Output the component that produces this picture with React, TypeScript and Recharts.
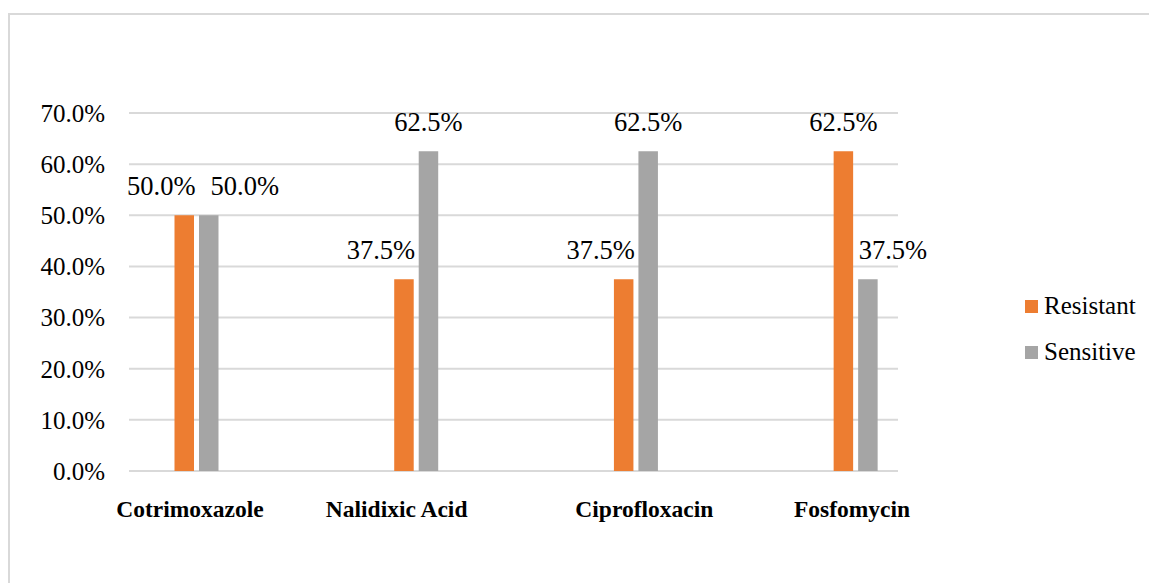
import React from 'react'
import { BarChart, Bar, XAxis, YAxis, CartesianGrid, Legend, LabelList } from 'recharts'

const drugs = ['Cotrimoxazole', 'Nalidixic Acid', 'Ciprofloxacin', 'Fosfomycin']
const resistant = [50.0, 37.5, 37.5, 62.5]
const sensitive = [50.0, 62.5, 62.5, 37.5]
const yTicks = [0, 10, 20, 30, 40, 50, 60, 70]

const ORANGE = '#ED7D31'
const GRAY = '#A5A5A5'
const GRID = '#D9D9D9'
const FONT = '"Liberation Serif", "Times New Roman", serif'

// hand-placed drug names sit a little off their group centres
const tickNudge: Record<string, number> = {
    'Cotrimoxazole': 6,
    'Nalidixic Acid': -7,
    'Ciprofloxacin': 21,
    'Fosfomycin': 9,
}

type Row = { drug: string; resistant?: number; sensitive?: number }

// every drug is followed by an empty row so the groups sit well apart
const rows: Row[] = drugs.flatMap((drug, i) => {
    const row: Row = { drug, resistant: resistant[i], sensitive: sensitive[i] }
    return i < drugs.length - 1 ? [row, { drug: '' }] : [row]
})

const DrugTick = (props: any) => {
    const { x, y, payload } = props
    const name = payload?.value
    if (!name) return null
    return (
        <text
            x={x + (tickNudge[name] ?? 0)}
            y={y + 46}
            textAnchor="middle"
            fontFamily={FONT}
            fontWeight="bold"
            fontSize={23.5}
            fill="#000"
        >
            {name}
        </text>
    )
}

// the shorter bar of a pair gets its label pushed sideways so both stay readable
// (LabelList only counts drawn bars, so index lines up with the drug arrays)
const makeLabel = (key: 'resistant' | 'sensitive') => (props: any) => {
    const { x, y, width, value, index } = props
    if (value == null) return null
    const other = key === 'resistant' ? sensitive[index] : resistant[index]
    let shift = 0
    if (other != null) {
        if (key === 'resistant' && value <= other) shift = -23
        if (key === 'sensitive' && value < other) shift = 25
        if (key === 'sensitive' && value === other) shift = 36
    }
    return (
        <text
            x={Number(x) + Number(width) / 2 + shift}
            y={Number(y) - 20}
            textAnchor="middle"
            fontFamily={FONT}
            fontSize={26.5}
            fill="#000"
        >
            {Number(value).toFixed(1)}%
        </text>
    )
}

const LegendBox = (props: any) => {
    const items = (props.payload || []).filter((p: any) => p.type !== 'none')
    return (
        <div style={{ fontFamily: FONT, fontSize: 25, color: '#000' }}>
            {items.map((p: any) => (
                <div key={p.value} style={{ display: 'flex', alignItems: 'center', height: 46 }}>
                    <span style={{ width: 13, height: 13, background: p.color, marginRight: 6 }} />
                    <span>{p.value}</span>
                </div>
            ))}
        </div>
    )
}

export default function App() {
    return (
        <div style={{ position: 'fixed', left: 0, top: 0, width: 1149, height: 583, overflow: 'hidden', background: '#fff' }}>
            <div
                style={{
                    position: 'absolute',
                    left: 8,
                    top: 13,
                    width: 1200,
                    height: 600,
                    border: `2px solid ${GRID}`,
                }}
            />
            <div style={{ position: 'absolute', left: 0, top: 0 }}>
                <BarChart
                    width={1149}
                    height={583}
                    data={rows}
                    margin={{ top: 113, right: 251, bottom: 0, left: 0 }}
                    barSize={19.5}
                    barGap={5}
                >
                    <CartesianGrid vertical={false} stroke={GRID} strokeWidth={2} />
                    <XAxis
                        dataKey="drug"
                        height={112}
                        axisLine={false}
                        tickLine={false}
                        tickSize={0}
                        tickMargin={0}
                        interval={0}
                        tick={<DrugTick />}
                    />
                    <YAxis
                        width={129}
                        domain={[0, 70]}
                        ticks={yTicks}
                        axisLine={false}
                        tickLine={false}
                        tickSize={6}
                        tickMargin={18}
                        tickFormatter={(v: number) => `${v.toFixed(1)}%`}
                        tick={{ fontFamily: FONT, fontSize: 25, fill: '#000' }}
                    />
                    <Legend
                        layout="vertical"
                        align="center"
                        verticalAlign="middle"
                        content={<LegendBox />}
                        wrapperStyle={{ left: 1025, top: 283, width: 130 }}
                    />
                    <Bar dataKey="spacer" legendType="none" fill="none" isAnimationActive={false} />
                    <Bar dataKey="resistant" name="Resistant" fill={ORANGE} isAnimationActive={false}>
                        <LabelList dataKey="resistant" content={makeLabel('resistant')} />
                    </Bar>
                    <Bar dataKey="sensitive" name="Sensitive" fill={GRAY} isAnimationActive={false}>
                        <LabelList dataKey="sensitive" content={makeLabel('sensitive')} />
                    </Bar>
                </BarChart>
            </div>
        </div>
    )
}
